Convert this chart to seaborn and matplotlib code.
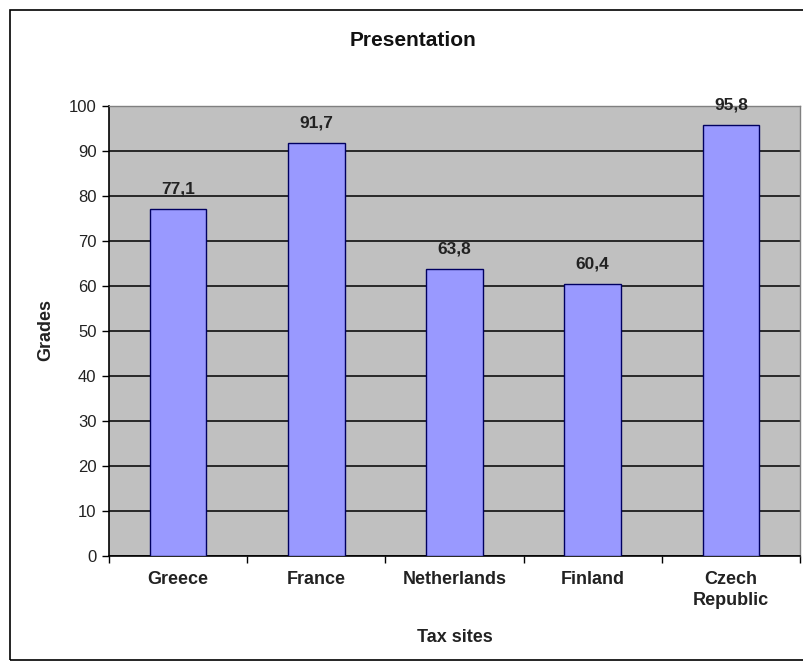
import matplotlib
matplotlib.use("Agg")
import matplotlib.pyplot as plt
from matplotlib.patches import Rectangle
import seaborn as sns
import pandas as pd

sites = ["Greece", "France", "Netherlands", "Finland", "Czech\nRepublic"]
grades = [77.1, 91.7, 63.8, 60.4, 95.8]
grade_labels = ["77,1", "91,7", "63,8", "60,4", "95,8"]
y_ticks = list(range(0, 101, 10))

sns.set_theme(style="white")
plt.rcParams["font.family"] = ["Liberation Sans", "DejaVu Sans"]

df = pd.DataFrame({"site": sites, "grade": grades})

W, H = 804, 671
fig = plt.figure(figsize=(W / 100, H / 100), dpi=100)
fig.patch.set_facecolor("white")

# outer chart frame
fig.patches.append(Rectangle((10 / W, 1 - 660 / H), 1.0, (660 - 10) / H,
                             transform=fig.transFigure, fill=False,
                             edgecolor="black", linewidth=1.2, zorder=0))

ax = fig.add_axes([109 / W, 1 - 556 / H, (800 - 109) / W, (556 - 106) / H])
ax.set_facecolor("#C0C0C0")

sns.barplot(data=df, x="site", y="grade", ax=ax, color="#9999FF",
            saturation=1, width=0.41, edgecolor="#000060", linewidth=1.0,
            zorder=3)

ax.set_ylim(0, 100)
ax.set_xlim(-0.5, len(sites) - 0.5)
ax.set_yticks(y_ticks)
ax.set_yticklabels([str(t) for t in y_ticks], fontsize=12, color="#222222")
ax.yaxis.grid(True, color="black", linewidth=1.1, zorder=1)
ax.set_axisbelow(True)

# category ticks sit between the bars
ax.set_xticks([i - 0.5 for i in range(len(sites) + 1)])
ax.set_xticklabels([])
ax.set_xticks(range(len(sites)), minor=True)
ax.set_xticklabels(sites, minor=True, fontsize=13, fontweight="bold",
                   color="#222222", linespacing=1.3)
ax.tick_params(axis="x", which="major", direction="out", length=5, width=1,
               color="black", bottom=True)
ax.tick_params(axis="x", which="minor", length=0, pad=11)
ax.tick_params(axis="y", direction="out", length=5, width=1, color="black",
               left=True, pad=4)

for side in ["left", "bottom"]:
    ax.spines[side].set_color("black")
    ax.spines[side].set_linewidth(1.2)
for side in ["top", "right"]:
    ax.spines[side].set_color("#808080")
    ax.spines[side].set_linewidth(1.0)

for i, (v, lab) in enumerate(zip(grades, grade_labels)):
    ax.annotate(lab, (i, v), xytext=(0, 9), textcoords="offset points",
                ha="center", va="bottom", fontsize=12.5, fontweight="bold",
                color="#222222", zorder=5)

ax.set_xlabel("Tax sites", fontsize=13, fontweight="bold", color="#222222",
              va="center")
ax.xaxis.set_label_coords(0.5, (556 - 637) / 450)
ax.set_ylabel("Grades", fontsize=13, fontweight="bold", color="#222222",
              va="center")
ax.yaxis.set_label_coords((46 - 109) / 691, (556 - 330) / 450)

fig.text(413 / W, 1 - 41 / H, "Presentation", fontsize=15, fontweight="bold",
         color="#111111", ha="center", va="center")

fig.savefig("out.png", dpi=100)
